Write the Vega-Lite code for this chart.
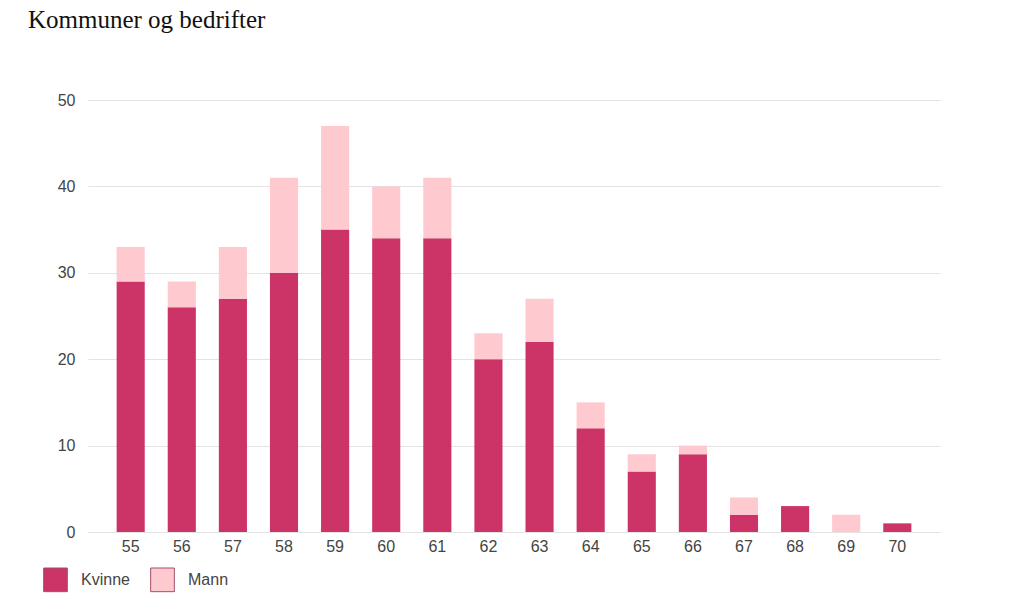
{
  "$schema": "https://vega.github.io/schema/vega-lite/v6.json",
  "autosize": "none",
  "width": 852,
  "height": 432,
  "padding": {"left": 88, "top": 100, "right": 83, "bottom": 84},
  "background": "white",
  "title": {"text": "Kommuner og bedrifter", "anchor": "start", "frame": "group", "dx": -60, "offset": 59, "font": "Liberation Serif", "fontSize": 25, "fontWeight": "normal", "color": "#111"},
  "config": {"view": {"stroke": null}},
  "data": {"values": [
    {"alder": "55", "kjonn": "Kvinne", "antall": 29}, {"alder": "55", "kjonn": "Mann", "antall": 4},
    {"alder": "56", "kjonn": "Kvinne", "antall": 26}, {"alder": "56", "kjonn": "Mann", "antall": 3},
    {"alder": "57", "kjonn": "Kvinne", "antall": 27}, {"alder": "57", "kjonn": "Mann", "antall": 6},
    {"alder": "58", "kjonn": "Kvinne", "antall": 30}, {"alder": "58", "kjonn": "Mann", "antall": 11},
    {"alder": "59", "kjonn": "Kvinne", "antall": 35}, {"alder": "59", "kjonn": "Mann", "antall": 12},
    {"alder": "60", "kjonn": "Kvinne", "antall": 34}, {"alder": "60", "kjonn": "Mann", "antall": 6},
    {"alder": "61", "kjonn": "Kvinne", "antall": 34}, {"alder": "61", "kjonn": "Mann", "antall": 7},
    {"alder": "62", "kjonn": "Kvinne", "antall": 20}, {"alder": "62", "kjonn": "Mann", "antall": 3},
    {"alder": "63", "kjonn": "Kvinne", "antall": 22}, {"alder": "63", "kjonn": "Mann", "antall": 5},
    {"alder": "64", "kjonn": "Kvinne", "antall": 12}, {"alder": "64", "kjonn": "Mann", "antall": 3},
    {"alder": "65", "kjonn": "Kvinne", "antall": 7}, {"alder": "65", "kjonn": "Mann", "antall": 2},
    {"alder": "66", "kjonn": "Kvinne", "antall": 9}, {"alder": "66", "kjonn": "Mann", "antall": 1},
    {"alder": "67", "kjonn": "Kvinne", "antall": 2}, {"alder": "67", "kjonn": "Mann", "antall": 2},
    {"alder": "68", "kjonn": "Kvinne", "antall": 3}, {"alder": "68", "kjonn": "Mann", "antall": 0},
    {"alder": "69", "kjonn": "Kvinne", "antall": 0}, {"alder": "69", "kjonn": "Mann", "antall": 2},
    {"alder": "70", "kjonn": "Kvinne", "antall": 1}, {"alder": "70", "kjonn": "Mann", "antall": 0}
  ]},
  "mark": {"type": "bar"},
  "encoding": {
    "x": {"field": "alder", "type": "ordinal", "title": null,
      "scale": {"paddingInner": 0.45, "paddingOuter": 0.56},
      "axis": {"labelAngle": 0, "domain": false, "ticks": false, "labelPadding": 6, "labelFont": "Liberation Sans", "labelFontSize": 16, "labelColor": "#444"}},
    "y": {"field": "antall", "type": "quantitative", "title": null, "stack": "zero",
      "scale": {"domain": [0, 50]},
      "axis": {"values": [0, 10, 20, 30, 40, 50], "domain": false, "ticks": false, "labelPadding": 13, "labelFont": "Liberation Sans", "labelFontSize": 16, "labelColor": "#444", "gridColor": "#e3e3e3", "gridWidth": 1}},
    "color": {"field": "kjonn", "type": "nominal", "title": null,
      "scale": {"domain": ["Kvinne", "Mann"], "range": ["#cc3366", "#ffc9d0"]},
      "legend": {"orient": "none", "legendX": -45, "legendY": 467, "direction": "horizontal", "symbolType": "square", "symbolSize": 560, "symbolStrokeWidth": 1, "symbolStrokeColor": "#a0506e", "labelFont": "Liberation Sans", "labelFontSize": 16, "labelColor": "#444", "columnPadding": 18, "labelOffset": 13}},
    "order": {"field": "kjonn", "sort": "ascending"}
  }
}
